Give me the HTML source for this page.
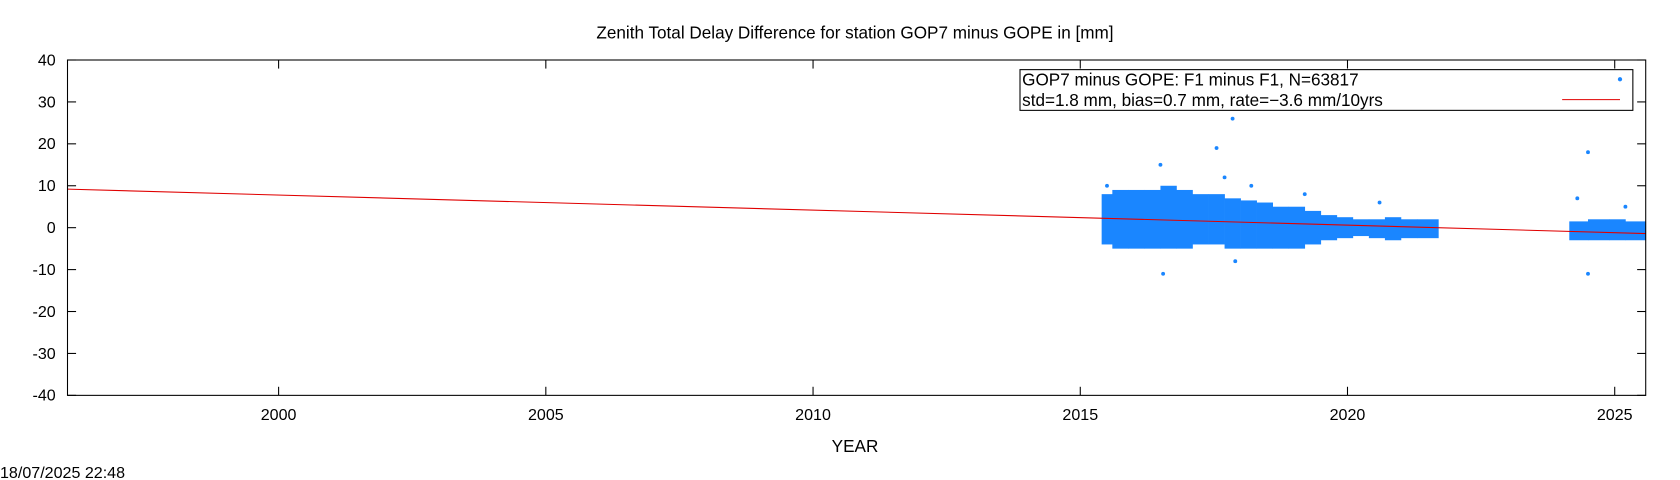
<!DOCTYPE html>
<html><head><meta charset="utf-8"><style>
html,body{margin:0;padding:0;background:#fff}
svg{display:block}
text{font-family:"Liberation Sans",sans-serif;fill:#000}
</style></head><body>
<svg id="chart" width="1680" height="480" viewBox="0 0 1568 448" preserveAspectRatio="none" xmlns="http://www.w3.org/2000/svg">
<text x="798" y="36" font-size="16" text-anchor="middle">Zenith Total Delay Difference for station GOP7 minus GOPE in [mm]</text>
<g id="ticks"></g>
<g id="marks"></g>
<rect x="63" y="56" width="1473" height="313" fill="none" stroke="#000" stroke-width="1"/>
<g>
<rect x="952" y="65" width="572" height="38" fill="#fff" stroke="#000" stroke-width="1"/>
<text x="954" y="80" font-size="16">GOP7 minus GOPE: F1 minus F1, N=63817</text>
<text x="954" y="99" font-size="16">std=1.8 mm, bias=0.7 mm, rate=−3.6 mm/10yrs</text>
<circle cx="1512" cy="74" r="2" fill="#1a86ff"/>
<line x1="1458" y1="93" x2="1512" y2="93" stroke="#e00000" stroke-width="1"/>
</g>
<text x="798" y="422" font-size="16" text-anchor="middle">YEAR</text>
<text x="0" y="446" font-size="15">18/07/2025 22:48</text>
</svg>
<script>
const xTicks=[2000,2005,2010,2015,2020,2025];
const yTicks=[-40,-30,-20,-10,0,10,20,30,40];
const binStart=[2015.4,2015.6,2015.9,2016.2,2016.5,2016.8,2017.1,2017.4,2017.7,2018.0,2018.3,2018.6,2018.9,2019.2,2019.5,2019.8,2020.1,2020.4,2020.7,2021.0,2021.3,2024.15,2024.5,2024.9,2025.2];
const binEnd=  [2015.6,2015.9,2016.2,2016.5,2016.8,2017.1,2017.4,2017.7,2018.0,2018.3,2018.6,2018.9,2019.2,2019.5,2019.8,2020.1,2020.4,2020.7,2021.0,2021.3,2021.7,2024.5,2024.9,2025.2,2025.58];
const binUpper=[8,9,9,9,10,9,8,8,7,6.5,6,5,5,4,3,2.5,2,2,2.5,2,2,1.5,2,2,1.5];
const binLower=[-4,-5,-5,-5,-5,-5,-4,-4,-5,-5,-5,-5,-5,-4,-3,-2.5,-2,-2.5,-3,-2.5,-2.5,-3,-3,-3,-3];
const outX=[2016.5,2016.55,2017.55,2017.85,2017.7,2017.9,2018.2,2019.2,2020.6,2024.5,2024.5,2024.3,2025.2,2015.5];
const outY=[15,-11,19,26,12,-8,10,8,6,18,-11,7,5,10];
const fitYears=[1996.05,2025.58];
const fitVals=[9.2,-1.4];
const X0=1996.05,X1=2025.58,Y0=-40,Y1=40,L=63,R=1536,T=56,B=369;
const xs=v=>L+(v-X0)/(X1-X0)*(R-L);
const ys=v=>B-(v-Y0)/(Y1-Y0)*(B-T);
const NS="http://www.w3.org/2000/svg";
const tg=document.getElementById('ticks'),mg=document.getElementById('marks');
function mk(tag,at,p){const e=document.createElementNS(NS,tag);for(const k in at)e.setAttribute(k,at[k]);p.appendChild(e);return e;}
xTicks.forEach(v=>{const x=xs(v);
 const a=mk('line',{x1:x,y1:B,x2:x,y2:B-8,stroke:'#000'},tg);
 
 
 const b=mk('line',{x1:x,y1:T,x2:x,y2:T+8,stroke:'#000'},tg);
 
 
 const t=mk('text',{x:x,y:392,'font-size':15,'text-anchor':'middle'},tg);t.textContent=v;
 
 
});
yTicks.forEach(v=>{const y=ys(v);
 const a=mk('line',{x1:L,y1:y,x2:L+8,y2:y,stroke:'#000'},tg);
 
 
 const b=mk('line',{x1:R,y1:y,x2:R-8,y2:y,stroke:'#000'},tg);
 
 
 const t=mk('text',{x:52,y:y+5,'font-size':15,'text-anchor':'end'},tg);t.textContent=v;
 
 
});
binStart.forEach((s,i)=>{
 const x=xs(s),w=xs(binEnd[i])-x+0.3;
 const r=mk('rect',{x:x,y:ys(binUpper[i]),width:w,height:ys(binLower[i])-ys(binUpper[i]),fill:'#1a86ff'},mg);
 
 
});
outX.forEach((v,i)=>{
 const c=mk('circle',{cx:xs(v),cy:ys(outY[i]),r:1.8,fill:'#1a86ff'},mg);
 
 
});
const fl=mk('line',{x1:xs(fitYears[0]),y1:ys(fitVals[0]),x2:xs(fitYears[1]),y2:ys(fitVals[1]),stroke:'#e00000','stroke-width':1},mg);


</script>
</body></html>
